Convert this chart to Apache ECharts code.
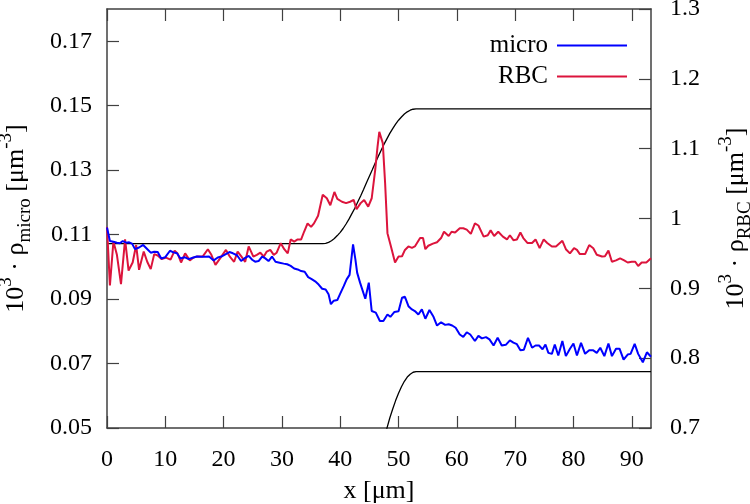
<!DOCTYPE html>
<html>
<head>
<meta charset="utf-8">
<script src="https://cdn.jsdelivr.net/npm/echarts@6/dist/echarts.min.js"></script>
<style>
html,body{margin:0;padding:0;background:#fff;}
#chart{width:750px;height:504px;}
</style>
</head>
<body>
<div id="chart"></div>
<script>
// ---- data ----
const xTicks = [0, 10, 20, 30, 40, 50, 60, 70, 80, 90];
const leftTicks = [0.05, 0.07, 0.09, 0.11, 0.13, 0.15, 0.17];
const rightTicks = [0.7, 0.8, 0.9, 1.0, 1.1, 1.2, 1.3];

// 10^3 * rho_micro (left axis)
const micro = [[0,0.1122],[0.5,0.108],[1.1,0.1078],[1.7,0.1075],[2.2,0.1073],[2.7,0.108],[3.3,0.1075],[3.8,0.1076],[4.3,0.1072],[4.8,0.1055],[5.5,0.106],[6.2,0.1068],[6.8,0.1057],[7.5,0.1044],[8.1,0.1047],[8.7,0.1046],[9.3,0.1026],[10.0,0.103],[10.8,0.105],[11.4,0.1045],[12.0,0.1042],[12.6,0.1026],[13.3,0.103],[14.0,0.1024],[14.7,0.1028],[15.4,0.1032],[16.1,0.1031],[16.8,0.1031],[17.5,0.1032],[18.3,0.102],[19.0,0.1029],[19.6,0.1032],[20.3,0.1039],[21.0,0.1046],[21.6,0.1042],[22.3,0.1036],[23.0,0.1018],[23.7,0.1028],[24.3,0.1034],[24.9,0.1022],[25.4,0.1016],[26.0,0.1018],[26.6,0.1032],[27.1,0.1027],[27.7,0.1018],[28.3,0.1032],[28.9,0.1016],[29.6,0.1013],[30.3,0.101],[30.9,0.1008],[31.5,0.1003],[32.1,0.0995],[32.7,0.0992],[33.3,0.0987],[33.9,0.0985],[34.5,0.0968],[35.1,0.0962],[35.7,0.0955],[36.3,0.0945],[36.9,0.0932],[37.5,0.093],[38.0,0.0915],[38.4,0.0884],[38.9,0.0895],[39.5,0.0897],[40.0,0.0917],[40.6,0.094],[41.1,0.0961],[41.6,0.0975],[42.2,0.107],[42.6,0.1023],[42.9,0.0982],[43.4,0.0951],[44.3,0.0901],[44.9,0.0951],[45.4,0.0863],[46.1,0.0858],[46.8,0.0832],[47.4,0.0832],[48.1,0.0852],[48.6,0.0845],[49.3,0.086],[50.0,0.0862],[50.6,0.0904],[51.1,0.0907],[51.7,0.0878],[52.3,0.0868],[52.8,0.0863],[53.4,0.0852],[54.0,0.0868],[54.6,0.0839],[55.3,0.0866],[56.0,0.0845],[56.6,0.0818],[57.3,0.0828],[58.0,0.082],[58.6,0.0822],[59.2,0.0818],[59.8,0.0811],[60.5,0.079],[61.1,0.0783],[61.7,0.0797],[62.3,0.079],[63.1,0.077],[63.7,0.0786],[64.3,0.0778],[65.0,0.0782],[65.6,0.0775],[66.3,0.0756],[67.0,0.078],[67.7,0.0756],[68.4,0.0758],[69.1,0.0772],[69.7,0.0765],[70.3,0.076],[70.9,0.0741],[71.5,0.0743],[72.2,0.078],[72.9,0.0749],[73.5,0.0756],[74.1,0.0756],[74.7,0.0744],[75.2,0.0759],[75.7,0.0733],[76.3,0.073],[76.8,0.0759],[77.4,0.0725],[78.1,0.077],[78.7,0.0723],[79.4,0.0746],[80.0,0.0762],[80.6,0.0725],[81.3,0.0764],[82.0,0.073],[82.7,0.0741],[83.4,0.0741],[84.0,0.0733],[84.6,0.0749],[85.3,0.0723],[86.0,0.0762],[86.6,0.0723],[87.3,0.0746],[87.9,0.0746],[88.6,0.0712],[89.3,0.0728],[89.8,0.073],[90.5,0.0761],[91.1,0.073],[91.9,0.0704],[92.6,0.0735],[93.3,0.0721]];

// 10^3 * rho_RBC (right axis)
const rbc = [[0,0.988],[0.5,0.904],[1.1,0.967],[1.7,0.948],[2.4,0.906],[3.1,0.970],[3.7,0.9255],[4.4,0.937],[5.0,0.962],[5.5,0.9265],[6.3,0.9526],[6.9,0.938],[7.5,0.9275],[8.1,0.949],[8.7,0.947],[9.4,0.9418],[10.1,0.944],[10.9,0.941],[11.6,0.954],[12.1,0.950],[12.7,0.937],[13.4,0.950],[14.2,0.94],[14.8,0.944],[15.5,0.9455],[16.4,0.9455],[17.3,0.956],[17.9,0.948],[18.6,0.9336],[19.4,0.943],[20.4,0.955],[21.1,0.945],[21.8,0.938],[22.4,0.9526],[23.0,0.946],[23.7,0.938],[24.3,0.96],[25.1,0.9455],[25.7,0.948],[26.3,0.951],[26.9,0.9455],[27.4,0.9526],[28.0,0.955],[28.6,0.948],[29.1,0.951],[29.8,0.9647],[30.4,0.956],[31.0,0.950],[31.5,0.970],[32.1,0.967],[32.7,0.970],[33.3,0.970],[33.8,0.981],[34.4,0.993],[35.0,0.988],[35.5,0.993],[36.2,1.004],[37.0,1.034],[37.7,1.029],[38.3,1.019],[39.0,1.038],[39.5,1.028],[40.3,1.024],[41.0,1.022],[41.7,1.024],[42.3,1.0266],[42.8,1.0133],[43.5,1.022],[44.1,1.0266],[44.8,1.017],[45.4,1.029],[46.0,1.0695],[46.4,1.103],[46.7,1.124],[47.3,1.108],[47.7,1.0505],[48.1,0.979],[48.7,0.960],[49.4,0.937],[50.0,0.9455],[50.6,0.946],[51.1,0.955],[51.7,0.960],[52.3,0.958],[52.8,0.96],[53.7,0.972],[54.2,0.972],[54.6,0.956],[55.1,0.961],[55.9,0.964],[56.6,0.966],[57.3,0.972],[57.8,0.981],[58.6,0.975],[59.1,0.981],[59.7,0.980],[60.5,0.986],[61.1,0.986],[61.7,0.984],[62.4,0.978],[63.1,0.993],[63.7,0.990],[64.6,0.974],[65.3,0.976],[65.8,0.983],[66.4,0.975],[67.1,0.981],[67.9,0.974],[68.6,0.970],[69.1,0.976],[69.7,0.969],[70.3,0.970],[70.9,0.980],[71.4,0.972],[72.1,0.965],[72.9,0.965],[73.5,0.970],[74.2,0.9575],[74.9,0.970],[75.5,0.965],[76.3,0.960],[77.0,0.960],[78.1,0.968],[78.7,0.956],[79.4,0.950],[80.1,0.9575],[80.6,0.955],[81.1,0.949],[82.0,0.949],[82.7,0.962],[83.4,0.9575],[84.0,0.948],[84.9,0.9455],[85.4,0.946],[86.0,0.954],[86.6,0.938],[87.3,0.940],[88.0,0.943],[88.7,0.940],[89.3,0.937],[90.0,0.938],[90.6,0.938],[91.1,0.932],[91.7,0.937],[92.5,0.937],[93.3,0.943]];

// channel wall outlines (left axis units)
const wallUpper = [[0,0.1072],[37,0.1072],[37.5,0.1073],[38,0.1076],[38.5,0.1081],[39,0.1088],[39.5,0.1097],[40,0.1107],[40.5,0.1119],[41,0.1133],[41.5,0.1148],[42,0.1165],[42.5,0.1182],[43,0.1201],[43.5,0.1220],[44,0.1240],[44.5,0.1261],[45,0.1281],[45.5,0.1301],[46,0.1322],[46.5,0.1342],[47,0.1361],[47.5,0.1380],[48,0.1397],[48.5,0.1414],[49,0.1429],[49.5,0.1443],[50,0.1455],[50.5,0.1465],[51,0.1474],[51.5,0.1481],[52,0.1486],[52.5,0.1489],[53,0.149],[93.3,0.149]];
const wallLower = [[47,0.0431],[47.5,0.0466],[48,0.0499],[48.5,0.0531],[49,0.0559],[49.5,0.0585],[50,0.0608],[50.5,0.0628],[51,0.0645],[51.5,0.0658],[52,0.0667],[52.5,0.0673],[53,0.0675],[93.3,0.0675]];

// ---- chart ----
const FONT = 'Liberation Serif';
const AX = '#404040';
const chart = echarts.init(document.getElementById('chart'), null, {renderer: 'canvas'});

const nameRich = {
  n: {fontFamily: FONT, fontSize: 26, color: '#000', lineHeight: 38},
  sup: {fontFamily: FONT, fontSize: 19, color: '#000', verticalAlign: 'top', lineHeight: 19},
  sub: {fontFamily: FONT, fontSize: 19, color: '#000', verticalAlign: 'bottom', lineHeight: 19}
};

function axisCommon() {
  return {
    splitLine: {show: false},
    axisLine: {show: true, onZero: false, lineStyle: {color: AX, width: 1.5}},
  };
}
function ticks(vals) {
  return {show: true, inside: true, length: 12, customValues: vals, lineStyle: {color: AX, width: 1.2}};
}

const option = {
  animation: false,
  backgroundColor: '#fff',
  grid: {left: 107, right: 99, top: 9, bottom: 76, containLabel: false, outerBoundsMode: 'none'},
  legend: {
    right: 118, top: 28, orient: 'vertical', align: 'right',
    icon: 'rect', itemWidth: 70, itemHeight: 2, itemGap: 6,
    data: ['micro', 'RBC'],
    formatter: name => '{a|' + name + '}',
    textStyle: {
      rich: {a: {fontFamily: FONT, fontSize: 25, color: '#000', width: 90, align: 'right', lineHeight: 24, padding: [0, 4, 0, 0]}}
    }
  },
  xAxis: [
    Object.assign(axisCommon(), {
      type: 'value', min: 0, max: 93.3, position: 'bottom',
      name: 'x [μm]', nameLocation: 'middle', nameGap: 50,
      nameTextStyle: {fontFamily: FONT, fontSize: 26, color: '#000'},
      axisTick: ticks(xTicks),
      axisLabel: {customValues: xTicks, fontFamily: FONT, fontSize: 24, color: '#000', margin: 20}
    }),
    Object.assign(axisCommon(), {
      type: 'value', min: 0, max: 93.3, position: 'top',
      axisTick: ticks(xTicks),
      axisLabel: {show: false}
    })
  ],
  yAxis: [
    Object.assign(axisCommon(), {
      type: 'value', min: 0.05, max: 0.18, position: 'left',
      name: '{n|10}{sup|3}{n| · ρ}{sub|micro}{n| [μm}{sup|-3}{n|]}',
      nameLocation: 'middle', nameGap: 72,
      nameTextStyle: {rich: nameRich, fontFamily: FONT, fontSize: 26},
      axisTick: ticks(leftTicks),
      axisLabel: {customValues: leftTicks, fontFamily: FONT, fontSize: 24, color: '#000', margin: 15,
        formatter: v => v.toFixed(2)}
    }),
    Object.assign(axisCommon(), {
      type: 'value', min: 0.7, max: 1.3, position: 'right',
      name: '{n|10}{sup|3}{n| · ρ}{sub|RBC}{n| [μm}{sup|-3}{n|]}',
      nameLocation: 'middle', nameGap: 66,
      nameTextStyle: {rich: nameRich, fontFamily: FONT, fontSize: 26},
      axisTick: ticks(rightTicks),
      axisLabel: {customValues: rightTicks, fontFamily: FONT, fontSize: 24, color: '#000', margin: 19,
        formatter: v => String(Math.round(v * 10) / 10)}
    })
  ],
  series: [
    {name: 'wallUpper', type: 'line', xAxisIndex: 0, yAxisIndex: 0, data: wallUpper, symbol: 'none',
     lineStyle: {color: '#000', width: 1.3}, z: 1, silent: true},
    {name: 'wallLower', type: 'line', xAxisIndex: 0, yAxisIndex: 0, data: wallLower, symbol: 'none',
     lineStyle: {color: '#000', width: 1.3}, z: 1, silent: true},
    {name: 'micro', type: 'line', xAxisIndex: 0, yAxisIndex: 0, data: micro, symbol: 'none',
     color: '#0000ff', lineStyle: {color: '#0000ff', width: 2}, z: 3},
    {name: 'RBC', type: 'line', xAxisIndex: 0, yAxisIndex: 1, data: rbc, symbol: 'none',
     color: '#dc143c', lineStyle: {color: '#dc143c', width: 2}, z: 2}
  ]
};
chart.setOption(option);
</script>
</body>
</html>
